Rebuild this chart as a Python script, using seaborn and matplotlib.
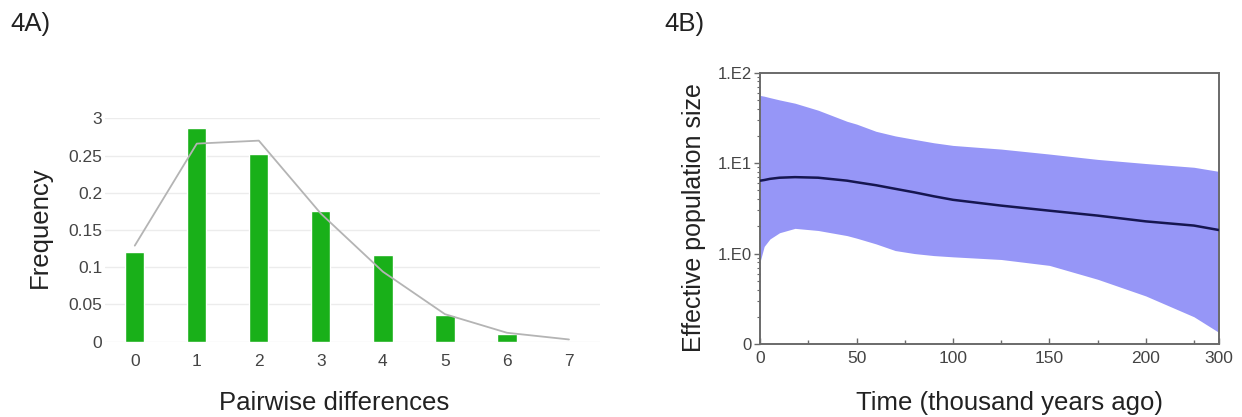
import matplotlib
matplotlib.use("Agg")
import matplotlib.pyplot as plt
from matplotlib.ticker import FixedLocator, LogLocator, NullFormatter
import seaborn as sns
import pandas as pd

# ---------------- data ----------------
# Panel 4A: mismatch distribution
pairwise_diff = [0, 1, 2, 3, 4, 5, 6, 7]
observed_freq = [0.120, 0.287, 0.252, 0.176, 0.116, 0.036, 0.010, 0.0]
expected_freq = [0.129, 0.266, 0.270, 0.172, 0.094, 0.037, 0.012, 0.003]
a_ytick_vals = [0, 0.05, 0.10, 0.15, 0.20, 0.25, 0.30]
a_ytick_labels = ["0", "0.05", "0.1", "0.15", "0.2", "0.25", "3"]

# Panel 4B: Bayesian skyline plot
time_kya = [0, 2, 5, 10, 18, 30, 45, 50, 60, 70, 80, 90, 100, 125, 150, 175, 200, 225, 238]
ne_median = [6.4, 6.5, 6.7, 6.9, 7.0, 6.9, 6.4, 6.15, 5.7, 5.2, 4.75, 4.3, 3.93, 3.39, 2.98, 2.63, 2.27, 2.04, 1.82]
ne_upper = [56, 55, 53, 50, 46, 38.5, 29, 27, 22.5, 20, 18.3, 16.8, 15.7, 14.3, 12.6, 11.0, 9.9, 9.0, 8.1]
ne_lower = [0.83, 1.2, 1.45, 1.7, 1.9, 1.8, 1.58, 1.48, 1.28, 1.08, 1.0, 0.95, 0.92, 0.86, 0.74, 0.52, 0.34, 0.2, 0.134]
b_xtick_vals = [0, 50, 100, 150, 200, 238]
b_xtick_labels = ["0", "50", "100", "150", "200", "300"]
b_ytick_vals = [0.1, 1, 10, 100]
b_ytick_labels = ["0", "1.E0", "1.E1", "1.E2"]

# ---------------- style ----------------
sns.set_theme(style="white")
plt.rcParams["font.family"] = ["Liberation Sans", "DejaVu Sans"]

fig = plt.figure(figsize=(12.42, 4.17), dpi=100)

# ---------------- panel A ----------------
axA = fig.add_axes([105 / 1242, 1 - 341.7 / 417, 495 / 1242, 223.4 / 417])
dfA = pd.DataFrame({"diff": pairwise_diff, "obs": observed_freq, "exp": expected_freq})
sns.barplot(data=dfA, x="diff", y="obs", color="#19b019", saturation=1,
            width=0.31, ax=axA, zorder=3)
sns.lineplot(data=dfA, x="diff", y="exp", color="#b4b4b4", linewidth=1.3,
             ax=axA, zorder=4)
axA.set_xlim(-0.48, 7.5)
axA.set_ylim(0, 0.3)
axA.set_yticks(a_ytick_vals)
axA.set_yticklabels(a_ytick_labels)
axA.set_xticks(range(len(pairwise_diff)))
axA.set_xticklabels([str(v) for v in pairwise_diff])
axA.yaxis.grid(True, color="#ececec", linewidth=1.0, zorder=0)
axA.xaxis.grid(False)
for s in axA.spines.values():
    s.set_visible(False)
axA.tick_params(axis="both", length=0, labelsize=12.5, labelcolor="#444444")
axA.tick_params(axis="x", pad=9)
axA.tick_params(axis="y", pad=2)
axA.set_xlabel("Pairwise differences", fontsize=18.5, color="#222222")
axA.set_ylabel("Frequency", fontsize=18.5, color="#222222")
axA.xaxis.set_label_coords((334 - 105) / 495, -(403 - 341.7) / 223.4, transform=None) if False else None
axA.xaxis.set_label_coords((334 - 105) / 495, -(403 - 341.7) / 223.4)
axA.xaxis.label.set_va("center")
axA.yaxis.set_label_coords(-(105 - 40) / 495, (341.7 - 227) / 223.4)
axA.yaxis.label.set_va("center")
fig.text(10 / 1242, 1 - 24 / 417, "4A)", fontsize=18.5, color="#222222", va="center", ha="left")

# ---------------- panel B ----------------
x0, x1, ytop, ybot = 760.3, 1219, 72.7, 344
axB = fig.add_axes([x0 / 1242, 1 - ybot / 417, (x1 - x0) / 1242, (ybot - ytop) / 417])
axB.fill_between(time_kya, ne_lower, ne_upper, color="#9696f7", linewidth=0, zorder=1)
sns.lineplot(x=time_kya, y=ne_median, color="#161650", linewidth=1.8, ax=axB, zorder=3)
axB.set_yscale("log")
axB.set_xlim(0, 238)
axB.set_ylim(0.1, 100)
axB.set_facecolor("white")
axB.set_xticks(b_xtick_vals)
axB.set_xticklabels(b_xtick_labels)
axB.xaxis.set_minor_locator(FixedLocator([25, 75, 125, 175, 225]))
axB.set_yticks(b_ytick_vals)
axB.set_yticklabels(b_ytick_labels)
axB.yaxis.set_minor_locator(LogLocator(base=10, subs=range(2, 10)))
axB.yaxis.set_minor_formatter(NullFormatter())
for s in axB.spines.values():
    s.set_visible(True)
    s.set_color("#6a6a6a")
    s.set_linewidth(1.4)
axB.tick_params(axis="x", which="both", direction="in", color="#6a6a6a",
                labelsize=12.5, labelcolor="#444444", pad=5, bottom=True)
axB.tick_params(axis="x", which="major", length=4, width=1)
axB.tick_params(axis="x", which="minor", length=3, width=1)
axB.tick_params(axis="y", which="both", direction="out", color="#6a6a6a",
                labelsize=12, labelcolor="#444444", pad=2, left=True)
axB.tick_params(axis="y", which="major", length=4, width=1)
axB.tick_params(axis="y", which="minor", length=2, width=0.8)
axB.set_xlabel("Time (thousand years ago)", fontsize=18.5, color="#222222")
axB.set_ylabel("Effective population size", fontsize=18, color="#222222")
axB.xaxis.set_label_coords((1009 - x0) / (x1 - x0), -(403 - ybot) / (ybot - ytop))
axB.xaxis.label.set_va("center")
axB.yaxis.set_label_coords(-(x0 - 694) / (x1 - x0), (ybot - 217.5) / (ybot - ytop))
axB.yaxis.label.set_va("center")
fig.text(664 / 1242, 1 - 24 / 417, "4B)", fontsize=18.5, color="#222222", va="center", ha="left")

fig.savefig("out.png", dpi=100, facecolor="white")
